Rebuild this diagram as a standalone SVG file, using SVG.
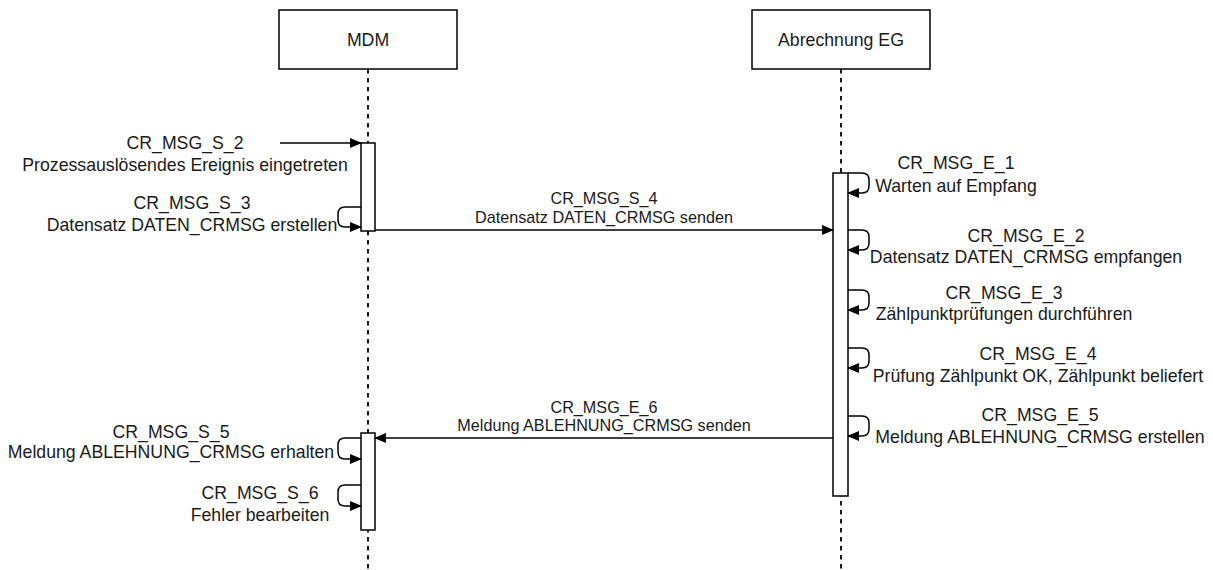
<svg xmlns="http://www.w3.org/2000/svg" width="1213" height="570" viewBox="0 0 1213 570">
<style>
.box{fill:#fff;stroke:#000;stroke-width:1.5}
.life{stroke:#000;stroke-width:1.8;stroke-dasharray:4.5 4.5;fill:none}
.msg{stroke:#000;stroke-width:1.5;fill:none}
.t{font-family:"Liberation Sans",Arial,sans-serif;font-size:17.7px;fill:#1a1a1a;text-anchor:middle}
.m{font-family:"Liberation Sans",Arial,sans-serif;font-size:16.2px;fill:#1a1a1a;text-anchor:middle}
</style>
<defs>
<marker id="ah" markerWidth="12" markerHeight="10" refX="11" refY="5" orient="auto" markerUnits="userSpaceOnUse">
<path d="M0,0 L12,5 L0,10 Z" fill="#000"/>
</marker>
</defs>
<rect width="1213" height="570" fill="#fff"/>
<g id="lifelines">
<line class="life" x1="368" y1="69" x2="368" y2="570"/>
<line class="life" x1="841" y1="69" x2="841" y2="570"/>
</g>
<g id="mdm">
<rect class="box" x="279" y="10" width="178" height="59"/>
<text class="t" x="368" y="46">MDM</text>
</g>
<g id="eg">
<rect class="box" x="752" y="10" width="178" height="59"/>
<text class="t" x="841" y="46">Abrechnung EG</text>
</g>
<g id="mdm-act1"><rect class="box" x="361" y="143" width="14" height="88"/></g>
<g id="mdm-act2"><rect class="box" x="361" y="433" width="14" height="97"/></g>
<g id="eg-act"><rect class="box" x="833" y="173" width="15" height="323"/></g>
<g id="connectors">
<path class="msg" d="M280,143 L361,143" marker-end="url(#ah)"/>
<path class="msg" d="M361,207 L345,207 Q338,207 338,214 L338,220 Q338,227 345,227 L361,227" marker-end="url(#ah)"/>
<path class="msg" d="M375,230 L833,230" marker-end="url(#ah)"/>
<path class="msg" d="M848,173 L862,173 Q869,173 869,180 L869,186 Q869,193 862,193 L848,193" marker-end="url(#ah)"/>
<path class="msg" d="M848,230 L862,230 Q869,230 869,237 L869,243 Q869,250 862,250 L848,250" marker-end="url(#ah)"/>
<path class="msg" d="M848,290 L862,290 Q869,290 869,297 L869,303 Q869,310 862,310 L848,310" marker-end="url(#ah)"/>
<path class="msg" d="M848,348 L862,348 Q869,348 869,355 L869,361 Q869,368 862,368 L848,368" marker-end="url(#ah)"/>
<path class="msg" d="M848,416 L862,416 Q869,416 869,423 L869,429 Q869,436 862,436 L848,436" marker-end="url(#ah)"/>
<path class="msg" d="M833,438 L375,438" marker-end="url(#ah)"/>
<path class="msg" d="M361,438 L345,438 Q338,438 338,445 L338,452 Q338,459 345,459 L361,459" marker-end="url(#ah)"/>
<path class="msg" d="M361,485 L345,485 Q338,485 338,492 L338,499 Q338,506 345,506 L361,506" marker-end="url(#ah)"/>
</g>
<g id="labels">
<text class="t" x="185" y="149">CR_MSG_S_2</text>
<text class="t" x="185" y="171">Prozessauslösendes Ereignis eingetreten</text>
<text class="t" x="192" y="209">CR_MSG_S_3</text>
<text class="t" x="192" y="231">Datensatz DATEN_CRMSG erstellen</text>
<text class="m" x="604" y="204">CR_MSG_S_4</text>
<text class="m" x="604" y="223">Datensatz DATEN_CRMSG senden</text>
<text class="t" x="956" y="169">CR_MSG_E_1</text>
<text class="t" x="956" y="192">Warten auf Empfang</text>
<text class="t" x="1026" y="242">CR_MSG_E_2</text>
<text class="t" x="1026" y="263">Datensatz DATEN_CRMSG empfangen</text>
<text class="t" x="1004" y="299">CR_MSG_E_3</text>
<text class="t" x="1004" y="320">Zählpunktprüfungen durchführen</text>
<text class="t" x="1038" y="360">CR_MSG_E_4</text>
<text class="t" x="1038" y="382">Prüfung Zählpunkt OK, Zählpunkt beliefert</text>
<text class="t" x="1040" y="421">CR_MSG_E_5</text>
<text class="t" x="1040" y="443">Meldung ABLEHNUNG_CRMSG erstellen</text>
<text class="m" x="604" y="413">CR_MSG_E_6</text>
<text class="m" x="604" y="431">Meldung ABLEHNUNG_CRMSG senden</text>
<text class="t" x="171" y="438">CR_MSG_S_5</text>
<text class="t" x="171" y="458">Meldung ABLEHNUNG_CRMSG erhalten</text>
<text class="t" x="260" y="499">CR_MSG_S_6</text>
<text class="t" x="260" y="521">Fehler bearbeiten</text>
</g>
</svg>
